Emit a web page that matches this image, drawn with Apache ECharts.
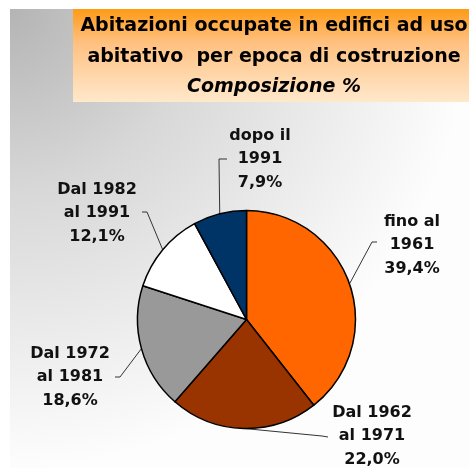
<!DOCTYPE html>
<html>
<head>
<meta charset="utf-8">
<script src="https://cdn.jsdelivr.net/npm/echarts@6/dist/echarts.min.js"></script>
<style>
  html, body { margin: 0; padding: 0; background: #fff; }
  #chart { width: 469px; height: 468px; }
</style>
</head>
<body>
<div id="chart"></div>
<script>
// epoca di costruzione -> composizione %
var categories = ['fino al\n1961', 'Dal 1962\nal 1971', 'Dal 1972\nal 1981', 'Dal 1982\nal 1991', 'dopo il\n1991'];
var values = [39.4, 22.0, 18.6, 12.1, 7.9];
var colors = ['#ff6600', '#993300', '#999999', '#ffffff', '#003366'];

// dove stanno le etichette (centro) e il gomito della linea guida
var labelPos = [[412, 245], [372, 436], [70, 377], [97, 213], [260, 159]];
var elbow = [[[372, 242], [377, 242]], [[322, 436], [328, 437]], [[120, 377], [115, 377]], [[147, 212], [142, 212]], [[219, 159], [227, 159]]];

var chart = echarts.init(document.getElementById('chart'));

var option = {
  animation: false,
  graphic: [
    {
      type: 'rect', z: -10,
      shape: { x: 10, y: 9, width: 459, height: 459 },
      style: {
        // sfondo: grigio in alto a sinistra, sfuma verso il bianco
        fill: new echarts.graphic.RadialGradient(0, 0, 1, [
          { offset: 0, color: '#b4b4b4' },
          { offset: 0.4, color: '#d8d8d8' },
          { offset: 1, color: '#fdfdfd' }
        ])
      }
    },
    {
      type: 'rect', z: -5,
      shape: { x: 73, y: 9, width: 396, height: 93 },
      style: {
        fill: new echarts.graphic.LinearGradient(0, 0, 0, 1, [
          { offset: 0, color: '#ff9a15' },
          { offset: 0.35, color: '#ffc07e' },
          { offset: 1, color: '#ffe8cc' }
        ])
      }
    }
  ],
  title: {
    text: '{a|Abitazioni occupate in edifici ad uso}\n{a|abitativo  per epoca di costruzione}\n{b|Composizione %}',
    left: 269,
    top: 6,
    textAlign: 'center',
    textStyle: {
      rich: {
        a: { fontFamily: 'DejaVu Sans', fontWeight: 'bold', fontSize: 19, lineHeight: 31, color: '#000', align: 'center' },
        b: { fontFamily: 'DejaVu Sans', fontWeight: 'bold', fontStyle: 'italic', fontSize: 19, lineHeight: 28, color: '#000', align: 'center' }
      }
    }
  },
  series: [
    {
      type: 'pie',
      center: [246.5, 319.5],
      radius: [0, 109],
      startAngle: 90,
      clockwise: true,
      itemStyle: { borderColor: '#000', borderWidth: 1.5 },
      label: {
        show: true,
        position: 'outside',
        fontFamily: 'DejaVu Sans',
        fontWeight: 'bold',
        fontSize: 16,
        lineHeight: 23.5,
        color: '#111',
        align: 'center',
        verticalAlign: 'middle',
        formatter: function (p) {
          return p.name + '\n' + p.value.toFixed(1).replace('.', ',') + '%';
        }
      },
      labelLine: {
        show: true,
        length: 20,
        length2: 5,
        lineStyle: { color: '#333', width: 1 }
      },
      labelLayout: function (p) {
        var i = p.dataIndex;
        var start = p.labelLinePoints ? p.labelLinePoints[0] : elbow[i][0];
        return {
          x: labelPos[i][0],
          y: labelPos[i][1],
          align: 'center',
          verticalAlign: 'middle',
          labelLinePoints: [start, elbow[i][0], elbow[i][1]]
        };
      },
      data: categories.map(function (c, i) {
        return { name: c, value: values[i], itemStyle: { color: colors[i] } };
      })
    }
  ]
};

chart.setOption(option);
</script>
</body>
</html>
